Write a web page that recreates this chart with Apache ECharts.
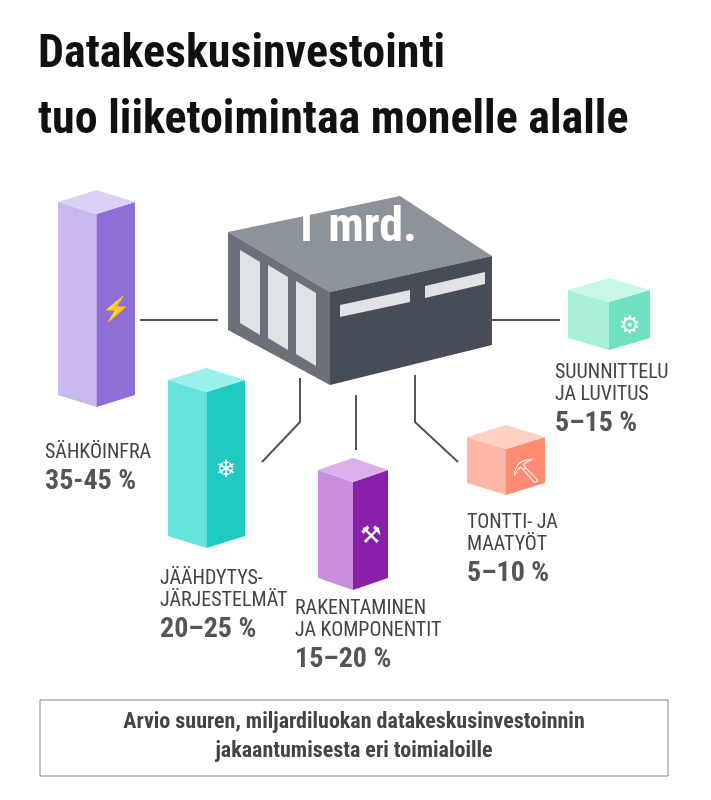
<!DOCTYPE html>
<html><head><meta charset="utf-8">
<script src="https://cdn.jsdelivr.net/npm/echarts@6/dist/echarts.min.js"></script>
<style>html,body{margin:0;padding:0;background:#fff}#c{width:711px;height:800px}</style>
</head><body><div id="c"></div>
<script>
// Sectors and share ranges
const categories = ['SÄHKÖINFRA','JÄÄHDYTYS-\nJÄRJESTELMÄT','RAKENTAMINEN\nJA KOMPONENTIT','TONTTI- JA\nMAATYÖT','SUUNNITTELU\nJA LUVITUS'];
const shareLabels = ['35-45 %','20–25 %','15–20 %','5–10 %','5–15 %'];
// box: left x, top y, bottom y (in page-scale value axes)
const boxLeft = [58,168,318,467,568];
const boxTop = [190,368,458,425,278];
const boxBottom = [407,548,590,495,350];
const boxWidth = [77,77,70,78,82];
const icons = ['⚡','❄','⚒','⛏','⚙'];
const frontColors = ['#c9b8ec','#63e3d9','#c98fdd','#ffb8a6','#a9f0d8'];
const sideColors = ['#8f6fd6','#1fcac0','#8a1faa','#ff8c72','#6fe0c2'];
const topColors = ['#ddd0f5','#9af0ea','#dcb0ea','#ffd0c4','#c8f7e8'];

const F = '"Liberation Sans Narrow","Roboto Condensed","Roboto",sans-serif';
const chart = echarts.init(document.getElementById('c'));
const data = categories.map((c,i)=>[boxLeft[i],boxTop[i],boxBottom[i],boxWidth[i],i]);

function renderBox(params, api){
  const x0=api.coord([api.value(0),api.value(1)]);
  const xb=api.coord([api.value(0)+api.value(3),api.value(2)]);
  const i=api.value(4);
  const L=x0[0], R=xb[0], T=x0[1], B=xb[1], M=(L+R)/2;
  const d=12;
  return {type:'group',children:[
    {type:'polygon',shape:{points:[[L,T+d],[M,T+2*d],[M,B],[L,B-d]]},style:{fill:frontColors[i]}},
    {type:'polygon',shape:{points:[[M,T+2*d],[R,T+d],[R,B-d],[M,B]]},style:{fill:sideColors[i]}},
    {type:'polygon',shape:{points:[[L,T+d],[M,T],[R,T+d],[M,T+2*d]]},style:{fill:topColors[i]}},
    {type:'text',style:{text:icons[i],x:(M+R)/2,y:(T+2*d+B)/2,align:'center',verticalAlign:'middle',fontSize:24,fill:'#fff'}}
  ]};
}

const labelPos = [[45,442],[160,568],[295,598],[467,512],[555,362]];
const graphics = [
  {type:'text',left:38,top:32,style:{text:'Datakeskusinvestointi',font:'bold 46px '+F,fill:'#111'}},
  {type:'text',left:38,top:98,style:{text:'tuo liiketoimintaa monelle alalle',font:'bold 46px '+F,fill:'#111'}},
  // server box
  {type:'polygon',shape:{points:[[228,232],[400,196],[492,256],[330,292]]},style:{fill:'#8d939b'}},
  {type:'polygon',shape:{points:[[228,232],[330,292],[330,385],[228,330]]},style:{fill:'#6b7079'}},
  {type:'polygon',shape:{points:[[330,292],[492,256],[492,345],[330,385]]},style:{fill:'#474d57'}},
  {type:'text',x:355,y:205,style:{text:'1 mrd.',font:'bold 48px '+F,fill:'#fff',align:'center'}},
  // connectors
  {type:'polyline',shape:{points:[[140,320],[218,320]]},style:{stroke:'#555',lineWidth:2}},
  {type:'polyline',shape:{points:[[492,320],[560,320]]},style:{stroke:'#555',lineWidth:2}},
  {type:'polyline',shape:{points:[[300,378],[300,422],[262,462]]},style:{stroke:'#555',lineWidth:2,fill:null}},
  {type:'polyline',shape:{points:[[356,395],[356,450]]},style:{stroke:'#555',lineWidth:2}},
  {type:'polyline',shape:{points:[[415,375],[415,422],[458,462]]},style:{stroke:'#555',lineWidth:2,fill:null}},
  // bottom note
  {type:'rect',shape:{x:40,y:700,width:628,height:76},style:{fill:'#fff',stroke:'#888',lineWidth:1}},
  {type:'text',x:354,y:708,style:{text:'Arvio suuren, miljardiluokan datakeskusinvestoinnin\njakaantumisesta eri toimialoille',font:'bold 22px '+F,fill:'#444',align:'center',lineHeight:29}}
];
// vents on server front face
[[240,250],[268,265],[296,281]].forEach(p=>{
  graphics.push({type:'polygon',shape:{points:[[p[0],p[1]],[p[0]+20,p[1]+12],[p[0]+20,p[1]+85],[p[0],p[1]+73]]},style:{fill:'#dfe2e6'}});
});
graphics.push({type:'polygon',shape:{points:[[340,305],[410,290],[410,302],[340,317]]},style:{fill:'#dfe2e6'}});
graphics.push({type:'polygon',shape:{points:[[425,286],[485,272],[485,284],[425,298]]},style:{fill:'#dfe2e6'}});
categories.forEach((c,i)=>{
  const p=labelPos[i];
  const lines=c.split('\n').length;
  graphics.push({type:'text',left:p[0],top:p[1],style:{text:c,font:'20px '+F,fill:'#444',lineHeight:22}});
  graphics.push({type:'text',left:p[0],top:p[1]+lines*22+4,style:{text:shareLabels[i],font:'bold 28px '+F,fill:'#555'}});
});

chart.setOption({
  animation:false,
  grid:{left:0,right:0,top:0,bottom:0},
  xAxis:{type:'value',min:0,max:711,show:false},
  yAxis:{type:'value',min:0,max:800,inverse:true,show:false},
  series:[{type:'custom',renderItem:renderBox,data:data,z:1}],
  graphic:graphics
});
</script></body></html>
